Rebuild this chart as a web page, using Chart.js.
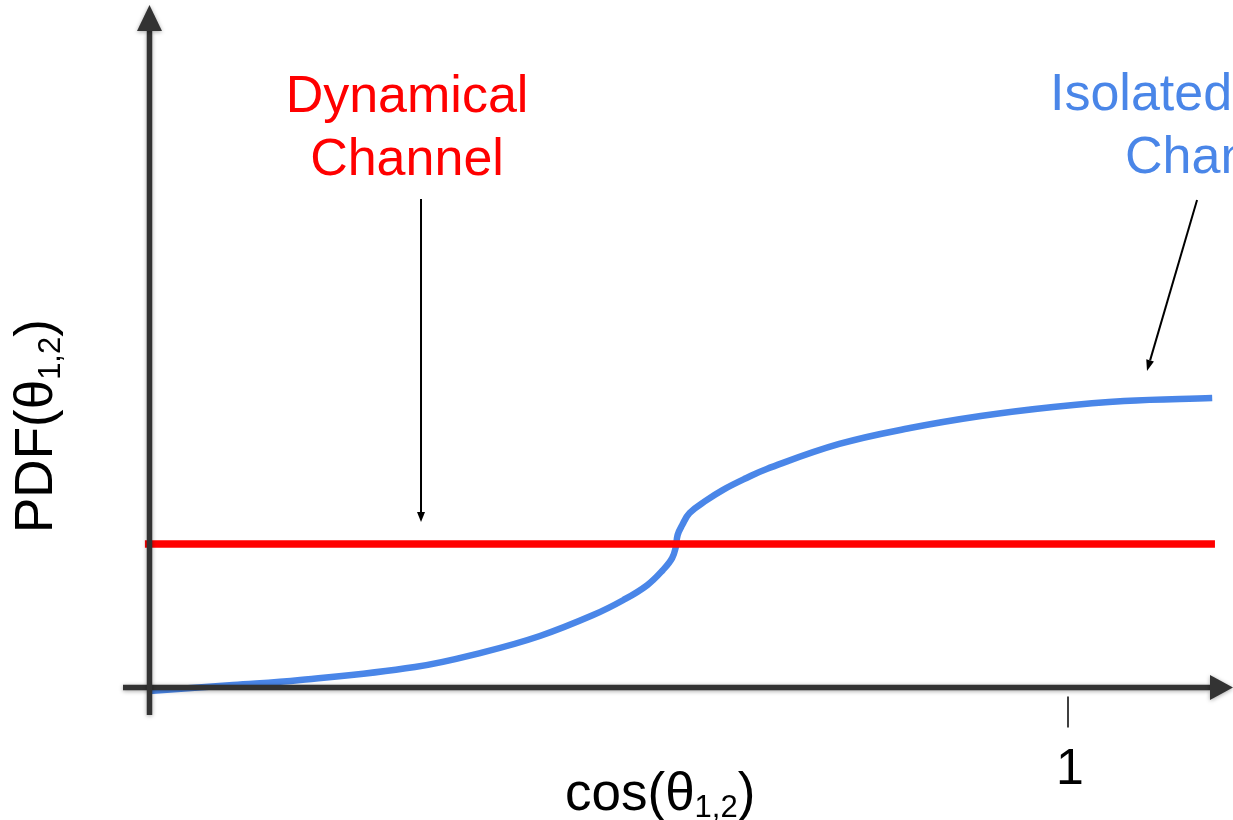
<!DOCTYPE html>
<html>
<head>
<meta charset="utf-8">
<script src="https://cdn.jsdelivr.net/npm/chart.js@4"></script>
<style>
  html, body { margin: 0; padding: 0; background: #fff; }
  canvas { display: block; }
</style>
</head>
<body>
<canvas id="pdfChart" width="1233" height="820"></canvas>
<script>
// cos(theta_1,2) positions for the isolated channel curve
const isolatedX = [0, 0.091, 0.164, 0.289, 0.364, 0.425, 0.483, 0.516, 0.542, 0.559, 0.569, 0.573,
    0.575, 0.580, 0.588, 0.607, 0.624, 0.650, 0.672, 0.751, 0.828, 0.905, 0.984, 1.061, 1.157];
const isolatedY = [-0.024, 0.017, 0.052, 0.143, 0.247, 0.359, 0.505, 0.610, 0.714, 0.819, 0.902, 0.979,
    1.063, 1.132, 1.216, 1.307, 1.376, 1.460, 1.523, 1.697, 1.808, 1.892, 1.955, 1.997, 2.017];

// dynamical channel: flat PDF
const dynamicalX = [-0.005, 1.160];
const dynamicalY = [1, 1];

const tickValues = [1];
const tickLabels = ['1'];

const xLabel = { main: 'cos(θ', sub: '1,2', tail: ')' };
const yLabel = { main: 'PDF(θ', sub: '1,2', tail: ')' };

const BLUE = '#4a86e8';
const RED = '#ff0000';
const AXIS = '#333333';
const FONT = '"Liberation Sans", Arial, Helvetica, sans-serif';

function toPoints(xs, ys) {
    return xs.map((x, i) => ({ x, y: ys[i] }));
}

// draws "main" + subscript + "tail" starting at (0,0) baseline in current transform
function drawSubText(ctx, label, size, subSize, subShift) {
    ctx.font = size + 'px ' + FONT;
    ctx.textBaseline = 'alphabetic';
    ctx.textAlign = 'left';
    let x = 0;
    ctx.fillText(label.main, x, 0);
    x += ctx.measureText(label.main).width;
    ctx.font = subSize + 'px ' + FONT;
    ctx.fillText(label.sub, x, subShift);
    x += ctx.measureText(label.sub).width;
    ctx.font = size + 'px ' + FONT;
    ctx.fillText(label.tail, x, 0);
}

function arrowLine(ctx, x1, y1, x2, y2, head, halfW) {
    const ang = Math.atan2(y2 - y1, x2 - x1);
    const bx = x2 - head * Math.cos(ang);
    const by = y2 - head * Math.sin(ang);
    ctx.beginPath();
    ctx.moveTo(x1, y1);
    ctx.lineTo(bx, by);
    ctx.stroke();
    ctx.beginPath();
    ctx.moveTo(x2, y2);
    ctx.lineTo(bx + halfW * Math.sin(ang), by - halfW * Math.cos(ang));
    ctx.lineTo(bx - halfW * Math.sin(ang), by + halfW * Math.cos(ang));
    ctx.closePath();
    ctx.fill();
}

const axesPlugin = {
    id: 'sketchAxes',
    afterDatasetsDraw(chart) {
        const { ctx, chartArea } = chart;
        const xs = chart.scales.x;
        const ys = chart.scales.y;
        const x0 = xs.getPixelForValue(0);
        const y0 = ys.getPixelForValue(0);

        ctx.save();
        // main axes with soft shadow
        ctx.shadowColor = 'rgba(0,0,0,0.35)';
        ctx.shadowBlur = 4;
        ctx.shadowOffsetY = 1;
        ctx.strokeStyle = AXIS;
        ctx.fillStyle = AXIS;
        ctx.lineWidth = 5.5;
        arrowLine(ctx, chartArea.left, y0, chartArea.right, y0, 23, 12.5);
        arrowLine(ctx, x0, chartArea.bottom, x0, chartArea.top, 26, 12.5);
        ctx.restore();

        // ticks + tick labels
        ctx.save();
        ctx.strokeStyle = '#000';
        ctx.fillStyle = '#000';
        ctx.lineWidth = 1.5;
        tickValues.forEach((v, i) => {
            const px = xs.getPixelForValue(v);
            ctx.beginPath();
            ctx.moveTo(px, y0 + 9);
            ctx.lineTo(px, y0 + 40);
            ctx.stroke();
            ctx.font = '50px ' + FONT;
            ctx.textAlign = 'center';
            ctx.textBaseline = 'alphabetic';
            ctx.fillText(tickLabels[i], px + 2, y0 + 96);
        });

        // axis titles
        ctx.save();
        ctx.translate(565, 810);
        drawSubText(ctx, xLabel, 53, 31, 7);
        ctx.restore();

        ctx.save();
        ctx.translate(52, 533);
        ctx.rotate(-Math.PI / 2);
        drawSubText(ctx, yLabel, 53, 31, 8);
        ctx.restore();

        // annotations
        ctx.font = '52px ' + FONT;
        ctx.textBaseline = 'alphabetic';
        ctx.fillStyle = RED;
        ctx.textAlign = 'center';
        ctx.fillText('Dynamical', 407, 112);
        ctx.fillText('Channel', 407, 175);

        ctx.fillStyle = BLUE;
        ctx.textAlign = 'left';
        ctx.fillText('Isolated', 1050, 110);
        ctx.fillText('Channel', 1125, 173);

        ctx.strokeStyle = '#000';
        ctx.fillStyle = '#000';
        ctx.lineWidth = 2;
        arrowLine(ctx, xs.getPixelForValue(0.2956), ys.getPixelForValue(3.404),
            xs.getPixelForValue(0.2956), ys.getPixelForValue(1.153), 10, 4);
        arrowLine(ctx, xs.getPixelForValue(1.1405), ys.getPixelForValue(3.397),
            xs.getPixelForValue(1.0860), ys.getPixelForValue(2.206), 11, 4);
        ctx.restore();
    }
};

new Chart(document.getElementById('pdfChart').getContext('2d'), {
    type: 'line',
    data: {
        datasets: [{
            label: 'Dynamical Channel',
            data: toPoints(dynamicalX, dynamicalY),
            borderColor: RED,
            borderWidth: 7.5,
            pointRadius: 0,
            fill: false
        }, {
            label: 'Isolated Channel',
            data: toPoints(isolatedX, isolatedY),
            borderColor: BLUE,
            borderWidth: 6.5,
            pointRadius: 0,
            tension: 0.4,
            fill: false
        }]
    },
    options: {
        responsive: false,
        animation: false,
        layout: { padding: { left: 123, right: 0, top: 5, bottom: 105 } },
        plugins: {
            legend: { display: false },
            tooltip: { enabled: false }
        },
        scales: {
            x: { type: 'linear', display: false, min: -0.02885, max: 1.17964 },
            y: { type: 'linear', display: false, min: -0.1916, max: 4.7561 }
        }
    },
    plugins: [axesPlugin]
});
</script>
</body>
</html>
